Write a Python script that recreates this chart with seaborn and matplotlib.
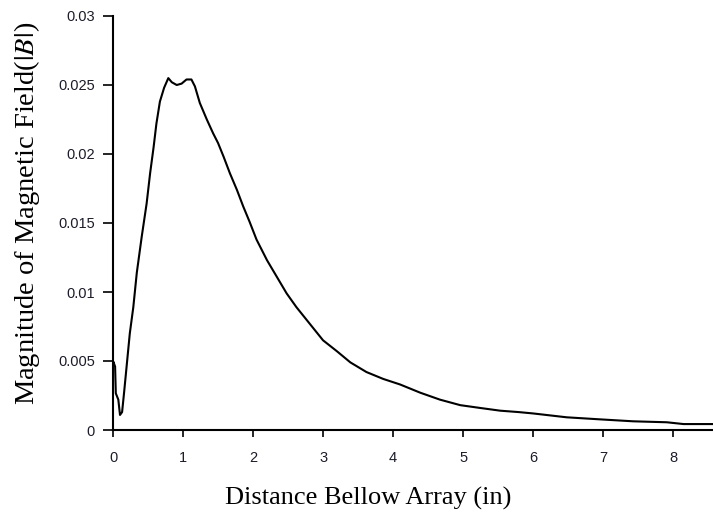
import matplotlib
matplotlib.use("Agg")
import matplotlib.pyplot as plt
import matplotlib.ticker as mticker
import seaborn as sns
import pandas as pd

# values
distance_in = [0.0, 0.005, 0.03, 0.04, 0.076, 0.1, 0.13, 0.16, 0.2, 0.24, 0.29, 0.34,
               0.41, 0.48, 0.53, 0.58, 0.62, 0.67, 0.73, 0.79, 0.84, 0.91, 0.98, 1.05,
               1.12, 1.17, 1.24, 1.34, 1.43, 1.50, 1.58, 1.67, 1.77, 1.86, 1.95, 2.05,
               2.20, 2.34, 2.48, 2.62, 2.81, 3.00, 3.20, 3.39, 3.62, 3.86, 4.10, 4.39,
               4.67, 4.96, 5.24, 5.53, 5.79, 6.00, 6.48, 6.96, 7.43, 7.91, 8.15, 8.57]
field_mag = [0.0047, 0.00495, 0.0046, 0.00266, 0.0022, 0.00109, 0.0013, 0.0028, 0.0049,
             0.0070, 0.0089, 0.0114, 0.0140, 0.0164, 0.0186, 0.0205, 0.0222, 0.0238,
             0.0248, 0.0255, 0.0252, 0.0250, 0.0251, 0.0254, 0.0254, 0.0249, 0.0237,
             0.0225, 0.0215, 0.0208, 0.0198, 0.0186, 0.0174, 0.0162, 0.0151, 0.0138,
             0.0123, 0.0111, 0.0099, 0.0089, 0.0077, 0.0065, 0.0057, 0.0049, 0.0042,
             0.0037, 0.0033, 0.0027, 0.0022, 0.0018, 0.0016, 0.0014, 0.0013, 0.0012,
             0.00092, 0.00077, 0.00063, 0.00056, 0.00043, 0.00043]

x_ticks = [0, 1, 2, 3, 4, 5, 6, 7, 8]
y_ticks = [0, 0.005, 0.01, 0.015, 0.02, 0.025, 0.03]

df = pd.DataFrame({"x": distance_in, "y": field_mag})

sns.set_style("ticks")
plt.rcParams["mathtext.fontset"] = "stix"

fig = plt.figure(figsize=(7.13, 5.14), dpi=100)
ax = fig.add_axes([113 / 713, 84 / 514, 600 / 713, 414 / 514])

sns.lineplot(data=df, x="x", y="y", ax=ax, color="black", linewidth=1.5, sort=False)

ax.set_xlim(0, 8.57)
ax.set_ylim(0, 0.03)
ax.set_xticks(x_ticks)
ax.set_yticks(y_ticks)
ax.yaxis.set_major_formatter(mticker.FuncFormatter(lambda v, p: f"{v:g}"))

tick_font = ["Liberation Sans Narrow", "Liberation Sans", "DejaVu Sans"]
for lab in ax.get_xticklabels() + ax.get_yticklabels():
    lab.set_family(tick_font)
    lab.set_fontsize(10.5)
    lab.set_color("#1c1c2a")

ax.tick_params(axis="y", length=7, width=1.2, pad=6, color="black")
ax.tick_params(axis="x", length=5, width=1.2, pad=10, color="black")

sns.despine(ax=ax)
for s in ("left", "bottom"):
    ax.spines[s].set_linewidth(1.5)
    ax.spines[s].set_color("black")

ax.set_xlabel("Distance Bellow Array (in)",
              family="Liberation Serif", fontsize=19, color="black")
ax.xaxis.set_label_coords(0.425, -0.137)
ax.set_ylabel("Magnitude of Magnetic Field($|B|$)",
              family="Liberation Serif", fontsize=20.5, color="black")
ax.yaxis.set_label_coords(-0.118, 0.524)

fig.savefig("out.png", dpi=100)
